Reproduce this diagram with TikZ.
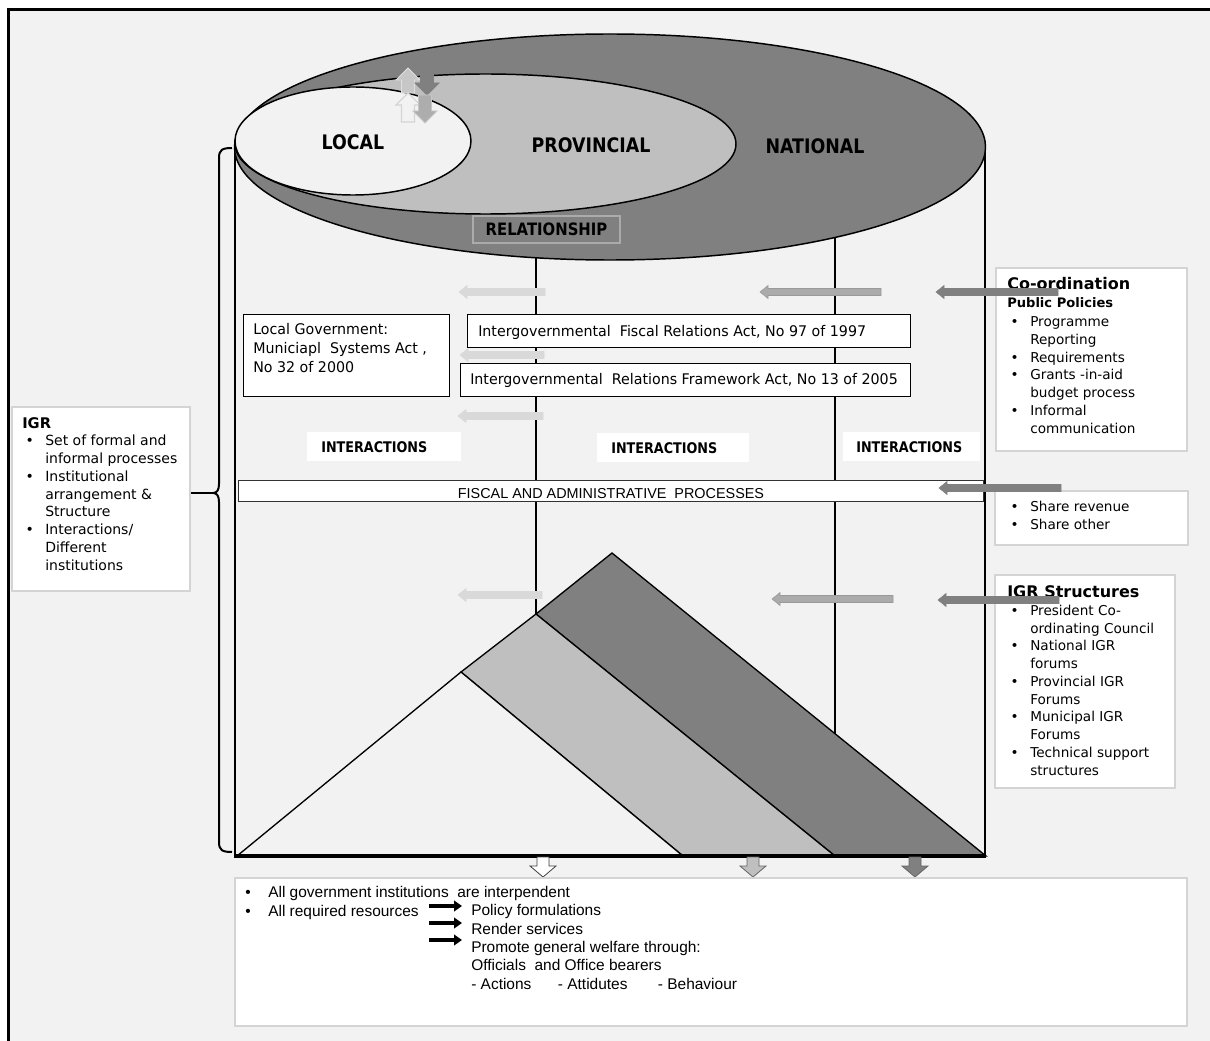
\documentclass[tikz,border=0pt]{standalone}
\usepackage{fontspec}
\setmainfont{DejaVu Sans}
\newfontfamily\tahomafont[FakeStretch=0.87]{DejaVu Sans}
\newfontfamily\lawfont[FakeStretch=0.97]{DejaVu Sans}
\newfontfamily\arialfont{Liberation Sans}
\usetikzlibrary{arrows.meta,fit}

\definecolor{paper}{HTML}{F2F2F2}
\definecolor{natgray}{HTML}{808080}
\definecolor{provgray}{HTML}{BFBFBF}
\definecolor{locgray}{HTML}{F2F2F2}
\definecolor{paleflow}{HTML}{D9D9D9}
\definecolor{midflow}{HTML}{ABABAB}
\definecolor{midedge}{HTML}{999999}
\definecolor{panelrule}{HTML}{D4D4D4}

% horizontal block arrow pointing left: tip x, y, tail x, fill, edge
\newcommand\flowleft[5]{%
  \filldraw[fill=#4,draw=#5,line width=0.4pt]
    (#1,#2) -- (#1+8,#2-6.5) -- (#1+8,#2-3.5) -- (#3,#2-3.5)
    -- (#3,#2+3.5) -- (#1+8,#2+3.5) -- (#1+8,#2+6.5) -- cycle;}
% vertical block arrows: x, tail y, tip y, half shaft, half head, head length, style
\newcommand\flowdown[7]{%
  \filldraw[#7] (#1-#4,#2) -- (#1+#4,#2) -- (#1+#4,#3-#6) -- (#1+#5,#3-#6)
    -- (#1,#3) -- (#1-#5,#3-#6) -- (#1-#4,#3-#6) -- cycle;}
\newcommand\flowup[7]{%
  \filldraw[#7] (#1-#4,#2) -- (#1+#4,#2) -- (#1+#4,#3+#6) -- (#1+#5,#3+#6)
    -- (#1,#3) -- (#1-#5,#3+#6) -- (#1-#4,#3+#6) -- cycle;}

% list helpers
\newcommand\bul{\makebox[17.25pt][l]{\hspace{2.5pt}•}}
\newcommand\ind{\hspace*{17.25pt}}

\begin{document}
\begin{tikzpicture}[x=0.75pt,y=-0.75pt,
  wall/.style={line width=1.5pt},
  disc/.style={draw=black,line width=1.1pt},
  lawbox/.style={draw=black,line width=0.6pt,fill=white,inner sep=0pt},
  panel/.style={draw=panelrule,line width=1pt,fill=white,inner sep=0pt},
  tagbox/.style={fill=white,inner sep=0pt},
  txt/.style={inner sep=0pt,anchor=base west,align=left},
  verdana/.style={font=\fontsize{10.2pt}{13.3pt}\selectfont},
  lawtext/.style={font=\lawfont\fontsize{11pt}{13.1pt}\selectfont},
  arial/.style={font=\arialfont\fontsize{11.6pt}{13.7pt}\selectfont},
  levelname/.style={inner sep=0pt,font=\tahomafont\fontsize{15pt}{17pt}\selectfont\bfseries},
  tagfont/.style={font=\tahomafont\fontsize{11pt}{13pt}\selectfont\bfseries},
  heading/.style={font=\fontsize{12pt}{14pt}\selectfont\bfseries}]
\useasboundingbox (0,0) rectangle (1210,1041);

% page ground and frame
\fill[paper] (8,9) rectangle (1210,1041);
\draw[line width=2.3pt] (8.7,1041) -- (8.7,9.5) -- (1210,9.5);

% cylinder walls and the dividers between the spheres
\draw[wall] (235,147) -- (235,856);
\draw[wall] (985,149) -- (985,856);
\draw[wall] (536,256) -- (536,614);
\draw[wall] (835,236) -- (835,856);

% the three spheres seen from above
\filldraw[disc,fill=natgray] (610,147) ellipse [x radius=375.5, y radius=113];
\filldraw[disc,fill=provgray] (485.5,144) ellipse [x radius=250.5, y radius=70];
\filldraw[disc,fill=locgray] (353,141) ellipse [x radius=118, y radius=54];
\node[levelname] (local) at (353,142) {LOCAL};
\node[levelname] (provincial) at (591,145) {PROVINCIAL};
\node[levelname] (national) at (815,146) {NATIONAL};

% small up/down arrows between the spheres
\flowup{408}{93}{68}{6.5}{12}{12}{fill=black!22,draw=black!12,line width=0.6pt}
\flowdown{427}{73}{95}{6.5}{12}{12}{fill=natgray,draw=natgray,line width=0.6pt}
\flowup{408}{122}{93}{6.5}{12}{12}{fill=locgray,draw=black!17,line width=0.8pt}
\flowdown{425}{95}{123}{6.5}{12}{12}{fill=black!32,draw=black!22,line width=0.6pt}

% layered pyramid
\filldraw[fill=natgray,line width=1pt] (536,614) -- (612,553) -- (986,856) -- (835,856) -- cycle;
\filldraw[fill=provgray,line width=1pt] (461,672) -- (536,614) -- (835,856) -- (683,856) -- cycle;
\filldraw[fill=locgray,line width=1pt] (237,856) -- (461,672) -- (683,856) -- cycle;
\draw[line width=2.3pt] (234,856) -- (986,856);

% relationship tag
\node[tagbox,fill=natgray,draw=midflow,line width=0.8pt,fit={(473,216) (620,243)}] (relbox) {};
\node[inner sep=0pt,font=\tahomafont\fontsize{12.8pt}{14pt}\selectfont\bfseries] (reltext) at (relbox.center) {RELATIONSHIP};

% legislation boxes
\node[lawbox,fit={(243,314) (449,396)}] (lgsa) {};
\node[txt,font=\lawfont\fontsize{11pt}{13.9pt}\selectfont] (lgsatext) at (253,372) {Local Government:\\Municiapl\ \ Systems Act ,\\No 32 of 2000};
\node[lawbox,fit={(467,314) (910,347)}] (ifra) {};
\node[txt,lawtext] (ifratext) at (478,336) {Intergovernmental\ \ Fiscal Relations Act, No 97 of 1997};
\node[lawbox,fit={(460,363) (910,396)}] (irfa) {};
\node[txt,lawtext] (irfatext) at (470,384) {Intergovernmental\ \ Relations Framework Act, No 13 of 2005};

% interaction tags
\node[tagbox,fit={(307,432) (461,461)}] (int1) {};
\node[txt,anchor=west,tagfont] (int1text) at (321,447) {INTERACTIONS};
\node[tagbox,fit={(597,433) (749,462)}] (int2) {};
\node[txt,anchor=west,tagfont] (int2text) at (611,448) {INTERACTIONS};
\node[tagbox,fit={(843,432) (980,461)}] (int3) {};
\node[txt,anchor=west,tagfont] (int3text) at (856,447) {INTERACTIONS};

% processes band
\node[lawbox,draw=black!80,fit={(238,480) (983,501)}] (fap) {};
\node[inner sep=0pt,font=\arialfont\fontsize{10.8pt}{12pt}\selectfont] (faptext) at (611,494) {FISCAL AND ADMINISTRATIVE\ \ PROCESSES};

% IGR panel and brace
\node[panel,fit={(12,407) (190,591)}] (igr) {};
\node[txt,font=\fontsize{10.5pt}{13.3pt}\selectfont] (igrtext) at (22,570) {{\fontsize{11pt}{13.3pt}\selectfont\bfseries IGR}\\
\bul Set of formal and\\ \ind informal processes\\
\bul Institutional\\ \ind arrangement \&\\ \ind Structure\\
\bul Interactions/\\ \ind Different\\ \ind institutions};
\coordinate (bracetip) at (213,493);
\draw[line width=1.5pt] (232,148) .. controls (222,148) and (219,150) .. (219,158) -- (219,484)
  .. controls (219,490) and (217,493) .. (bracetip)
  .. controls (217,493) and (219,496) .. (219,502) -- (219,842)
  .. controls (219,850) and (222,852) .. (232,852);
\draw[line width=1.5pt] (igr.east |- bracetip) -- (bracetip);

% co-ordination panel
\node[panel,fit={(996,268) (1187,451)}] (coord) {};
\node[txt,heading] (coordhead) at (1007,290) {Co-ordination};
\node[txt,font=\fontsize{9.8pt}{12pt}\selectfont\bfseries] (coordsub) at (1007,307) {Public Policies};
\node[txt,verdana] (coordlist) at (1007,433) {\bul Programme\\ \ind Reporting\\ \bul Requirements\\
\bul Grants -in-aid\\ \ind budget process\\ \bul Informal\\ \ind communication};

% revenue panel
\node[panel,fit={(995,491) (1188,545)}] (share) {};
\node[txt,verdana] (sharelist) at (1007,529) {\bul Share revenue\\ \bul Share other};

% structures panel
\node[panel,fit={(995,575) (1175,788)}] (struct) {};
\node[txt,heading] (structhead) at (1007,597) {IGR Structures};
\node[txt,verdana] (structlist) at (1007,775) {\bul President Co-\\ \ind ordinating Council\\
\bul National IGR\\ \ind forums\\ \bul Provincial IGR\\ \ind Forums\\
\bul Municipal IGR\\ \ind Forums\\ \bul Technical support\\ \ind structures};

% outcome arrows below the cylinder
\flowdown{543}{857}{877}{6}{13}{11}{fill=white,draw=black!75,line width=0.6pt}
\flowdown{753}{857}{877}{6}{13}{11}{fill=provgray,draw=black!60,line width=0.6pt}
\flowdown{915}{857}{877}{6}{13}{11}{fill=natgray,draw=black!60,line width=0.6pt}

% outcome panel
\node[panel,fit={(235,878) (1187,1026)}] (summary) {};
\node[txt,arial] (sumleft) at (245,916) {\makebox[17.25pt][l]{•}All government institutions\ \ are interpendent\\
\makebox[17.25pt][l]{•}All required resources};
\node[txt,arial] (sumright) at (471,989) {Policy formulations\\ Render services\\ Promote general welfare through:\\
Officials\ \ and Office bearers\\ \makebox[65pt][l]{- Actions}\makebox[75pt][l]{- Attidutes}- Behaviour};
\coordinate (res1) at (429,906);
\coordinate (res2) at (429,923);
\coordinate (res3) at (429,940);
\foreach \r in {res1,res2,res3}
  \draw[line width=2.3pt,-{Triangle[length=6pt,width=8pt]}] (\r) -- ++(33,0);

% flow arrows across the spheres
\flowleft{459}{292}{545}{paleflow}{paleflow}
\flowleft{760}{292}{881}{midflow}{midedge}
\flowleft{936}{292}{1058}{natgray}{natgray}
\flowleft{460}{355}{544}{paleflow}{paleflow}
\flowleft{458}{416}{543}{paleflow}{paleflow}
\flowleft{939}{488}{1061}{natgray}{natgray}
\flowleft{458}{595}{542}{paleflow}{paleflow}
\flowleft{772}{599}{893}{midflow}{midedge}
\flowleft{938}{600}{1059}{natgray}{natgray}
\end{tikzpicture}
\end{document}
